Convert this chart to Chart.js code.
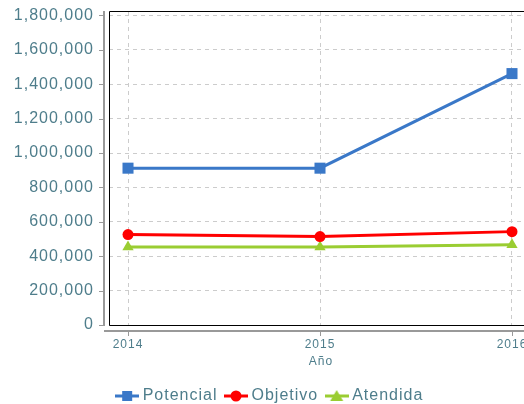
<!DOCTYPE html>
<html>
<head>
<meta charset="utf-8">
<script src="https://cdn.jsdelivr.net/npm/chart.js@4.4.1/dist/chart.umd.min.js"></script>
<style>
  html, body { margin: 0; padding: 0; background: #fff; overflow: hidden; }
  #wrap { position: absolute; left: 0; top: 0; width: 524px; height: 404px; overflow: hidden; }
  #wrap canvas { position: absolute; left: 0; top: 0; }
</style>
</head>
<body>
<div id="wrap"><canvas id="chart" width="543" height="404"></canvas></div>
<script>
const years = [2014, 2015, 2016];
const potencial = [912000, 912000, 1462000];
const objetivo = [526000, 514000, 543000];
const atendida = [453000, 453000, 466000];
const yTicks = [0, 200000, 400000, 600000, 800000, 1000000, 1200000, 1400000, 1600000, 1800000];
const xTitle = 'Año';

const textColor = '#4e7d8b';
const font = 'Liberation Sans, Arial, sans-serif';

// little line+marker picture for the legend
function legendIcon(color, style) {
    const c = document.createElement('canvas');
    c.width = 24; c.height = 14;
    const g = c.getContext('2d');
    g.strokeStyle = color; g.fillStyle = color; g.lineWidth = 3;
    g.beginPath(); g.moveTo(0, 7); g.lineTo(24, 7); g.stroke();
    g.beginPath();
    if (style === 'rect') g.rect(7, 2, 10, 10);
    else if (style === 'circle') g.arc(12, 7, 5.5, 0, Math.PI * 2);
    else { g.moveTo(12, 1); g.lineTo(18.5, 12); g.lineTo(5.5, 12); g.closePath(); }
    g.fill();
    return c;
}

const series = [
    { label: 'Potencial', data: potencial, color: '#3a78c8', style: 'rect', radius: 7.8 },
    { label: 'Objetivo', data: objetivo, color: '#ff0000', style: 'circle', radius: 5.5 },
    { label: 'Atendida', data: atendida, color: '#9acd32', style: 'triangle', radius: 6.5 }
];

const spacing = {
    id: 'spacing',
    beforeUpdate(chart) { chart.ctx.letterSpacing = '1px'; },
    beforeDraw(chart) { chart.ctx.letterSpacing = '1px'; }
};

// black plot frame, gray offset axes, tick marks and the x title under the middle year
const frame = {
    id: 'frame',
    afterDraw(chart) {
        const { ctx, chartArea: a, scales } = chart;
        ctx.save();
        ctx.strokeStyle = '#000'; ctx.lineWidth = 1;
        ctx.beginPath();
        ctx.moveTo(a.left + 0.5, a.bottom + 0.5);
        ctx.lineTo(a.left + 0.5, a.top + 0.5);
        ctx.lineTo(chart.width, a.top + 0.5);
        ctx.moveTo(a.left + 0.5, a.bottom + 0.5);
        ctx.lineTo(chart.width, a.bottom + 0.5);
        ctx.stroke();
        ctx.strokeStyle = '#999'; ctx.lineWidth = 2;
        ctx.beginPath();
        ctx.moveTo(a.left - 5, a.top); ctx.lineTo(a.left - 5, a.bottom + 1);
        ctx.moveTo(a.left - 5, a.bottom + 6); ctx.lineTo(chart.width, a.bottom + 6);
        ctx.stroke();
        ctx.lineWidth = 1;
        ctx.beginPath();
        scales.y.ticks.forEach(t => {
            const y = Math.round(scales.y.getPixelForValue(t.value)) + 0.5;
            ctx.moveTo(a.left - 10, y); ctx.lineTo(a.left - 5, y);
        });
        scales.x.ticks.forEach(t => {
            const x = Math.round(scales.x.getPixelForValue(t.value)) + 0.5;
            ctx.moveTo(x, a.bottom + 6); ctx.lineTo(x, a.bottom + 11);
        });
        ctx.stroke();
        ctx.fillStyle = textColor;
        ctx.font = '12px ' + font;
        ctx.letterSpacing = '1px';
        ctx.textAlign = 'center';
        ctx.textBaseline = 'middle';
        ctx.fillText(xTitle, scales.x.getPixelForValue(years[1]) + 1, a.bottom + 37);
        ctx.restore();
    }
};

new Chart(document.getElementById('chart'), {
    type: 'line',
    data: {
        datasets: series.map(s => ({
            label: s.label,
            data: years.map((yr, i) => ({ x: yr, y: s.data[i] })),
            borderColor: s.color,
            backgroundColor: s.color,
            borderWidth: 3,
            pointStyle: s.style,
            pointRadius: s.radius,
            pointHoverRadius: s.radius,
            pointBorderWidth: 0,
            tension: 0,
            fill: false,
            clip: false
        }))
    },
    options: {
        responsive: false,
        animation: false,
        layout: { autoPadding: false, padding: { top: 11, right: 0, bottom: -10, left: 0 } },
        scales: {
            x: {
                type: 'linear',
                min: 2013.901,
                max: 2016.1615,
                afterBuildTicks(scale) { scale.ticks = years.map(v => ({ value: v })); },
                grid: { color: '#cccccc', drawTicks: false },
                border: { display: false, dash: [4, 4] },
                ticks: { color: textColor, font: { family: font, size: 12 }, padding: 12, maxRotation: 0, callback: v => String(v) },
                afterFit(scale) { scale.height = 52; scale.paddingLeft = 0; scale.paddingRight = 0; }
            },
            y: {
                min: 0,
                max: 1826000,
                afterBuildTicks(scale) { scale.ticks = yTicks.map(v => ({ value: v })); },
                grid: { color: '#cccccc', drawTicks: false },
                border: { display: false, dash: [4, 4] },
                ticks: {
                    color: textColor,
                    font: { family: font, size: 16 },
                    padding: 15,
                    callback: v => v.toLocaleString('en-US')
                },
                afterFit(scale) { scale.width = 109; scale.paddingTop = 0; scale.paddingBottom = 0; }
            }
        },
        plugins: {
            legend: {
                position: 'bottom',
                labels: {
                    color: textColor,
                    font: { family: font, size: 16 },
                    usePointStyle: true,
                    pointStyleWidth: 15,
                    padding: 11,
                    generateLabels(chart) {
                        return series.map((s, i) => ({
                            text: s.label,
                            fontColor: textColor,
                            pointStyle: legendIcon(s.color, s.style),
                            datasetIndex: i,
                            lineWidth: 0,
                            hidden: false
                        }));
                    }
                }
            },
            tooltip: { enabled: false }
        }
    },
    plugins: [spacing, frame]
});
</script>
</body>
</html>
